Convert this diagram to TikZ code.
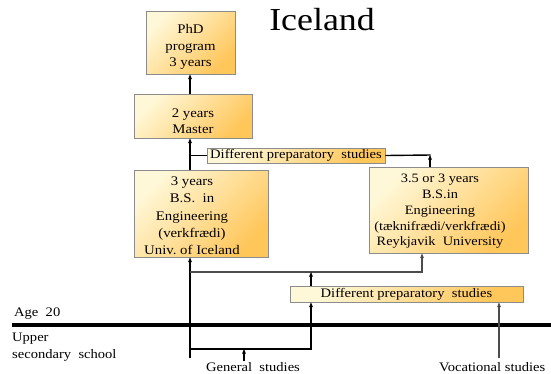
\documentclass[tikz,border=0pt]{standalone}
\usepackage{fontspec}
\setmainfont{Liberation Serif}[FakeStretch=1.12]
\usetikzlibrary{arrows.meta}
\definecolor{lightY}{HTML}{FFF8D8}
\definecolor{orangeY}{HTML}{FFC65A}
\definecolor{boxline}{HTML}{8C8C8C}
\tikzset{
  box/.style={draw=boxline, line width=0.8pt, top color=lightY, bottom color=orangeY,
    shading angle=45, inner sep=0pt, align=center,
    font=\fontsize{13}{16}\selectfont},
  boxtxt/.style={inner sep=0pt, align=center, font=\fontsize{13.2}{16.5}\selectfont},
  lbl/.style={inner sep=0pt, font=\fontsize{13}{16}\selectfont},
  con/.style={line width=1.4pt, black},
  arr/.style={con, -{Stealth[length=5pt,width=4pt]}},
  garr/.style={line width=1.4pt, black!70, -{Stealth[length=5pt,width=4pt]}},
  gcon/.style={line width=1.4pt, black!70},
}
\begin{document}
\begin{tikzpicture}[x=1pt,y=-1pt]
\useasboundingbox (0,0) rectangle (551,373);
% title
\node[inner sep=0pt, font=\fontsize{32}{36}\selectfont] (title) at (322,20) {Iceland};
% boxes
\node[box, minimum width=89pt, minimum height=63pt] (phd) at (190.5,42.5) {};
\node[boxtxt] (phdtxt) at (190.5,47) {PhD\\program\\3 years};
\node[box, minimum width=118pt, minimum height=44pt] (master) at (193,116) {};
\node[boxtxt] (mastertxt) at (193,121) {2 years\\Master};
\node[box, minimum width=178pt, minimum height=15pt] (prep1) at (296,155.5) {Different preparatory\ \ studies};
\node[box, minimum width=134pt, minimum height=87pt] (bs) at (201,213.5) {};
\node[boxtxt, font=\fontsize{13.2}{17.3}\selectfont] (bstxt) at (192,216) {3 years\\B.S.\ \ in\\Engineering\\(verkfrædi)\\Univ.\ of Iceland};
\node[box, minimum width=159pt, minimum height=86pt] (ru) at (448.5,210) {};
\node[boxtxt, font=\fontsize{12.8}{15.8}\selectfont] (rutxt) at (440,211.5) {3.5 or 3 years\\B.S.in\\Engineering\\(tæknifrædi/verkfrædi)\\Reykjavik\ \ University};
\node[box, minimum width=233pt, minimum height=16pt] (prep2) at (406.5,294) {Different preparatory\ \ studies};
% labels
\node[lbl, anchor=base west] (age) at (14,316) {Age\ \ 20};
\node[lbl, anchor=base west] (upper) at (12,341) {Upper};
\node[lbl, anchor=base west] (sec) at (12,358) {secondary\ \ school};
\node[lbl, anchor=base] (gen) at (253,371) {General\ \ studies};
\node[lbl, anchor=base west] (voc) at (439,371) {Vocational studies};
% coordinates
\coordinate (sx) at (190,0);
\coordinate (rj) at (430,155);
\coordinate (h1) at (190,272);
\coordinate (h1r) at (422,272);
\coordinate (m1) at (311,272);
\coordinate (h2l) at (190,349);
\coordinate (h2r) at (311,349);
\coordinate (gb) at (190,358);
\coordinate (ga) at (244,361);
\coordinate (va) at (499,358);
\coordinate (tl) at (12,325);
\coordinate (tr) at (551,325);
% thick age line
\draw[line width=4.5pt] (tl) -- (tr);
% connectors
\draw[arr] (master.north -| sx) -- (phd.south -| sx);
\draw[arr] (bs.north -| sx) -- (master.south -| sx);
\draw[con] (prep1.west -| sx) -- (prep1.west);
\draw[con] (prep1.east) -- ([xshift=0.7pt]rj);
\draw[arr] (ru.north -| rj) -- (rj);
\draw[arr] (gb) -- (bs.south -| sx);
\draw[garr] (h1) -- (h1r) -- (ru.south -| h1r);
\draw[arr] (prep2.north -| m1) -- (m1);
\draw[arr] (h2l) -- (h2r) -- (prep2.south -| h2r);
\draw[arr] (ga) -- (ga |- h2l);
\draw[garr] (va) -- (prep2.south -| va);
\end{tikzpicture}
\end{document}
